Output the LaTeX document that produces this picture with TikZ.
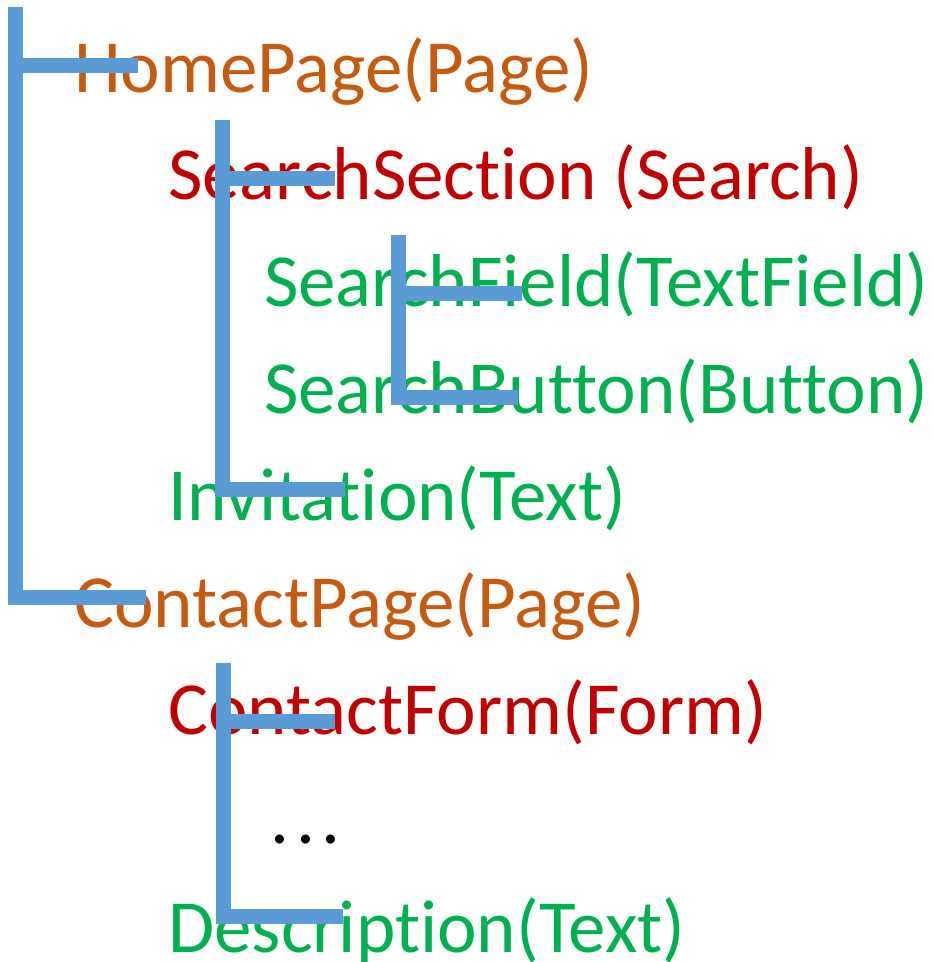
\documentclass[tikz,border=0pt]{standalone}
\usepackage{fontspec}
\setmainfont[Ligatures=NoCommon]{Carlito}
\usetikzlibrary{positioning}

\definecolor{pageorange}{RGB}{197,90,17}
\definecolor{sectred}{RGB}{192,0,0}
\definecolor{itemgreen}{RGB}{0,176,80}
\definecolor{treeblue}{RGB}{91,155,213}

\begin{document}
\begin{tikzpicture}[x=1pt, y=-1pt,
	lbl/.style={anchor=base west, inner sep=0pt, font=\fontsize{75}{90}\selectfont},
	page/.style={lbl, text=pageorange},
	sect/.style={lbl, text=sectred},
	item/.style={lbl, text=itemgreen},
	branch/.style={treeblue, line width=15pt, line join=miter, line cap=butt}]

\useasboundingbox (0,0) rectangle (934,962);

\node[page] (home)    at (74,92)  {HomePage(Page)};
\node[sect] (search)  at (168,199) {SearchSection (Search)};
\node[item] (field)   at (264,306) {SearchField(TextField)};
\node[item] (button)  at (264,413) {SearchButton(Button)};
\node[item] (invite)  at (168,520) {Invitation(Text)};
\node[page] (contact) at (74,627) {ContactPage(Page)};
\node[sect] (form)    at (168,734) {ContactForm(Form)};
\node[lbl]  (dots)    at (270,843) {.\kern7pt.\kern7pt.};
\node[item] (descr)   at (168,952) {Description(Text)};

\coordinate (t1) at (15,7);
\coordinate (t2) at (222,120);
\coordinate (t3) at (398,235);
\coordinate (t4) at (223,663);

\draw[branch] (t1) -- (15,597) -- (146,597);
\draw[branch] (7.5,65) -- (138,65);

\draw[branch] (t2) -- (222,489) -- (345,489);
\draw[branch] (214.5,178) -- (335,178);

\draw[branch] (t3) -- (398,397) -- (518,397);
\draw[branch] (390.5,293) -- (522,293);

\draw[branch] (t4) -- (223,916) -- (343,916);
\draw[branch] (215.5,721) -- (335,721);

\end{tikzpicture}
\end{document}
